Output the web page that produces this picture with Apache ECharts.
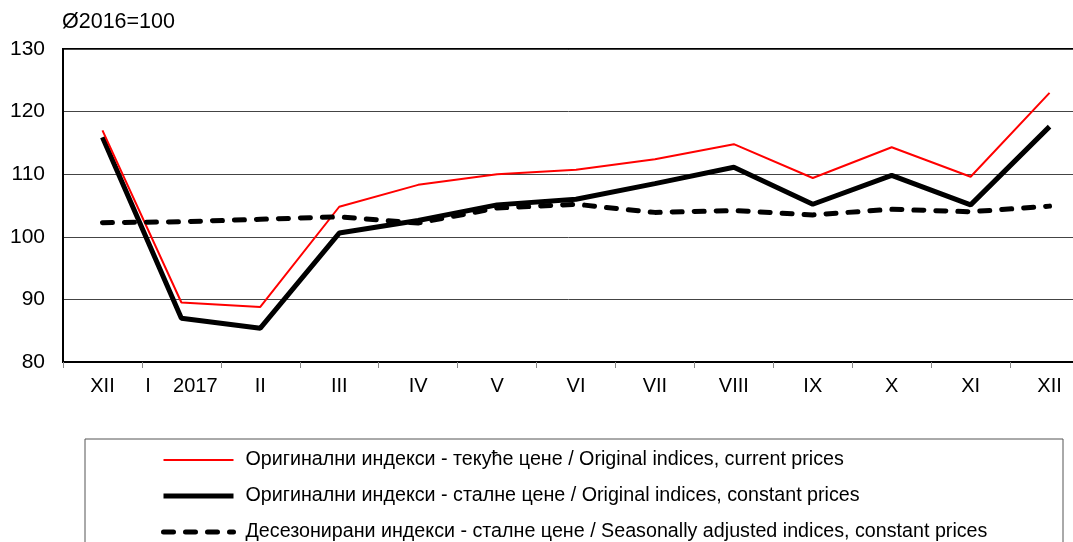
<!DOCTYPE html>
<html>
<head>
<meta charset="utf-8">
<script src="https://cdn.jsdelivr.net/npm/echarts@6/dist/echarts.min.js"></script>
<style>
  html,body{margin:0;padding:0;background:#fff;overflow:hidden;}
  #chart{width:1073px;height:542px;}
</style>
</head>
<body>
<div id="chart"></div>
<script>
// месеци (XII 2016 - XII 2017)
var months = ['XII', 'I    2017', 'II', 'III', 'IV', 'V', 'VI', 'VII', 'VIII', 'IX', 'X', 'XI', 'XII'];
// оригинални индекси - текуће цене
var currentPrices = [117.0, 89.5, 88.8, 104.8, 108.3, 110.0, 110.7, 112.4, 114.8, 109.4, 114.3, 109.6, 123.0];
// оригинални индекси - сталне цене
var constantPrices = [115.9, 87.0, 85.4, 100.6, 102.6, 105.1, 106.0, 108.5, 111.1, 105.2, 109.8, 105.1, 117.6];
// десезонирани индекси - сталне цене
var seasonAdjusted = [102.25, 102.4, 102.8, 103.2, 102.2, 104.6, 105.2, 103.9, 104.2, 103.5, 104.4, 104.0, 104.9];
var seriesNames = [
    'Оригинални индекси - текуће цене / Original indices, current prices',
    'Оригинални индекси - сталне цене / Original indices, constant prices',
    'Десезонирани индекси - сталне цене / Seasonally adjusted indices, constant prices'
];

var font = 'Liberation Sans, Arial, sans-serif';
var redLine = {color: '#ff0000', width: 2};
var blackLine = {color: '#000', width: 5};
var dashLine = {color: '#000', width: 5, type: [10, 12], cap: 'round'};
var mychart = echarts.init(document.getElementById('chart'));

var option = {
    backgroundColor: '#fff',
    animation: false,
    title: {
        text: 'Ø2016=100',
        left: 62,
        top: 11,
        padding: 0,
        textStyle: {fontFamily: font, fontSize: 21.5, fontWeight: 'normal', color: '#000'}
    },
    //绘图区: 右边超出画布 16px
    grid: {
        left: 63,
        top: 49,
        right: -16,
        bottom: 180,
        outerBoundsMode: 'none',
        show: true,
        borderColor: '#000',
        borderWidth: 2
    },
    //图例
    legend: {
        orient: 'vertical',
        left: 161,
        top: 450,
        padding: 0,
        itemWidth: 70,
        itemHeight: 20,
        itemGap: 16,
        data: [
            {name: seriesNames[0], lineStyle: redLine},
            {name: seriesNames[1], lineStyle: blackLine},
            {name: seriesNames[2], lineStyle: dashLine}
        ],
        itemStyle: {opacity: 0},
        textStyle: {fontFamily: font, fontSize: 19.7, color: '#000', padding: [0, 0, 0, 7]}
    },
    graphic: [{
        type: 'rect',
        shape: {x: 85, y: 439, width: 978, height: 120},
        style: {fill: 'none', stroke: '#555', lineWidth: 1}
    }],
    xAxis: {
        type: 'category',
        data: months,
        boundaryGap: true,
        axisLine: {lineStyle: {color: '#000', width: 2}},
        axisTick: {show: true, length: 6, lineStyle: {color: '#888', width: 1}},
        axisLabel: {fontFamily: font, fontSize: 20, color: '#000', margin: 14, interval: 0}
    },
    yAxis: {
        type: 'value',
        min: 80,
        max: 130,
        interval: 10,
        axisLine: {show: true, lineStyle: {color: '#000', width: 2}},
        axisTick: {show: false},
        axisLabel: {fontFamily: font, fontSize: 21, color: '#000', margin: 18},
        splitLine: {show: true, lineStyle: {color: '#444', width: 1}}
    },
    series: [
        {
            name: seriesNames[0],
            type: 'line',
            data: currentPrices,
            symbol: 'none',
            z: 3,
            lineStyle: redLine,
            itemStyle: {color: '#ff0000'}
        },
        {
            name: seriesNames[1],
            type: 'line',
            data: constantPrices,
            symbol: 'none',
            z: 2,
            lineStyle: blackLine,
            itemStyle: {color: '#000'}
        },
        {
            name: seriesNames[2],
            type: 'line',
            data: seasonAdjusted,
            symbol: 'none',
            z: 4,
            lineStyle: dashLine,
            itemStyle: {color: '#000'}
        }
    ]
};
mychart.setOption(option);
</script>
</body>
</html>
